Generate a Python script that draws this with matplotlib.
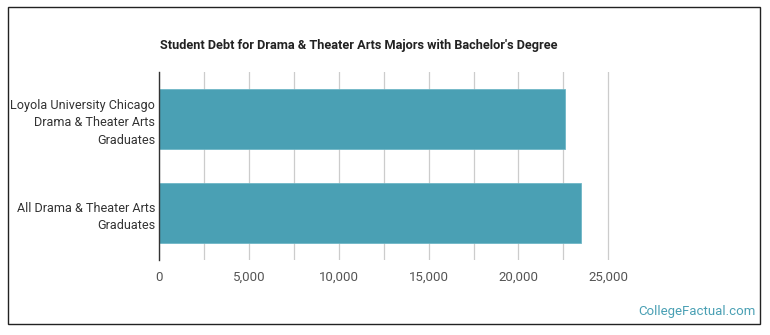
import matplotlib.pyplot as plt
from matplotlib.patches import Rectangle
from matplotlib.ticker import FuncFormatter, MultipleLocator

# chart values
categories = ['Loyola University Chicago\nDrama & Theater Arts\nGraduates',
              'All Drama & Theater Arts\nGraduates']
debt = [22590, 23460]
tick_values = [0, 5000, 10000, 15000, 20000, 25000]

plt.rcParams['font.family'] = ['Roboto', 'DejaVu Sans']

fig = plt.figure(figsize=(7.7, 3.35), dpi=100)
ax = fig.add_axes([159.3 / 770, 1 - 260 / 335, (610 - 159.3) / 770, (260 - 72) / 335])

ypos = list(range(len(categories)))
ax.barh(ypos, debt, height=0.64, color='#4aa0b4', edgecolor='#6fb7c6', linewidth=0.6, zorder=3)
ax.set_yticks(ypos)
ax.set_yticklabels(categories, fontsize=9.1, color='#333333', linespacing=1.45)
ax.set_ylim(1.5, -0.5)

ax.set_xlim(0, 25100)
ax.set_xticks(tick_values)
ax.xaxis.set_minor_locator(MultipleLocator(2500))
ax.xaxis.set_major_formatter(FuncFormatter(lambda v, p: f'{int(v):,}'))
ax.tick_params(axis='x', labelsize=9.5, labelcolor='#555555', length=0, pad=8, which='both')
ax.tick_params(axis='y', length=0, pad=3)
ax.grid(axis='x', which='both', color='#cccccc', linewidth=0.9, zorder=0)

for s in ['top', 'right', 'bottom']:
    ax.spines[s].set_visible(False)
ax.spines['left'].set_color('#333333')
ax.spines['left'].set_linewidth(1.0)
ax.spines['left'].set_zorder(4)

fig.text(160 / 770, 1 - 45 / 335, "Student Debt for Drama & Theater Arts Majors with Bachelor's Degree",
         fontsize=9.15, fontweight='bold', color='#222222', ha='left', va='center')
fig.text(756 / 770, 1 - 312 / 335, 'CollegeFactual.com', fontsize=9.5, color='#4aa0b4',
         ha='right', va='center')

fig.patches.append(Rectangle((8 / 770, 1 - 324 / 335), (752 / 770), (317 / 335),
                             transform=fig.transFigure, fill=False, edgecolor='#222222', linewidth=1.0))

fig.savefig('out.png', dpi=100)
